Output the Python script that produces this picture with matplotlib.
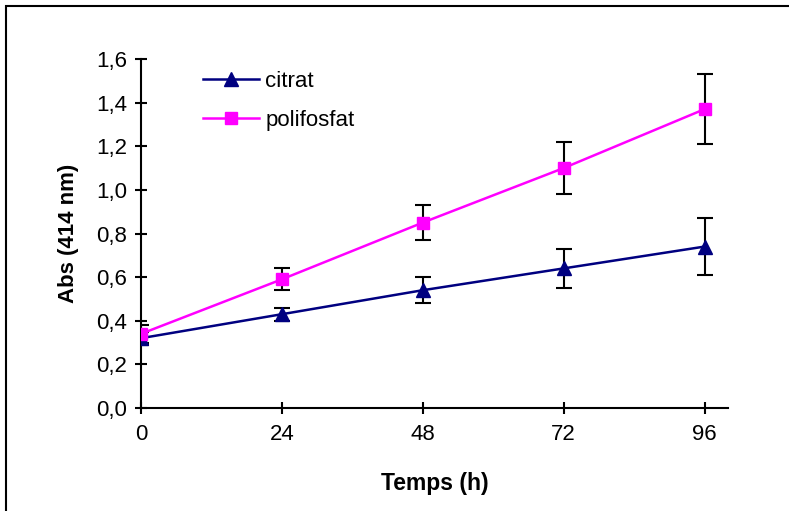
import matplotlib

matplotlib.use("Agg")

import matplotlib.pyplot as plt
from matplotlib.patches import Rectangle

plt.rcParams["font.family"] = ["Liberation Sans", "DejaVu Sans"]

HOURS = [0, 24, 48, 72, 96]
CITRAT = [0.32, 0.43, 0.54, 0.64, 0.74]
CITRAT_ERR = [0.03, 0.03, 0.06, 0.09, 0.13]
POLI = [0.34, 0.59, 0.85, 1.10, 1.37]
POLI_ERR = [0.04, 0.05, 0.08, 0.12, 0.16]
Y_TICKS = [0.0, 0.2, 0.4, 0.6, 0.8, 1.0, 1.2, 1.4, 1.6]

W, H = 789, 511
fig = plt.figure(figsize=(W / 100, H / 100), dpi=100)
ax = fig.add_axes([141 / W, (H - 408) / H, (728 - 141) / W, (408 - 59) / H])

# outer chart border (right and bottom edges fall outside the picture)
fig.patches.append(Rectangle((6 / W, -0.1), 1.2, 1 - 6 / H + 0.1,
                             transform=fig.transFigure, fill=False,
                             edgecolor="black", linewidth=1.5))

err_kw = dict(ecolor="black", elinewidth=1.5, capsize=5.5, capthick=1.5, zorder=2)
ax.errorbar(HOURS, CITRAT, yerr=CITRAT_ERR, fmt="none", **err_kw)
ax.errorbar(HOURS, POLI, yerr=POLI_ERR, fmt="none", **err_kw)
ax.plot(HOURS, CITRAT, color="#000080", linewidth=1.8, marker="^",
        markersize=10, markerfacecolor="#000080", markeredgecolor="#000080",
        label="citrat", zorder=3)
ax.plot(HOURS, POLI, color="#FF00FF", linewidth=1.8, marker="s",
        markersize=8, markerfacecolor="#FF00FF", markeredgecolor="#FF00FF",
        label="polifosfat", zorder=3)

ax.set_xlim(0, 100)
ax.set_ylim(0, 1.6)
ax.set_xticks(HOURS)
ax.set_yticks(Y_TICKS)
ax.set_yticklabels([f"{v:.1f}".replace(".", ",") for v in Y_TICKS])
ax.tick_params(direction="inout", length=8.5, width=1.5, labelsize=16)
ax.tick_params(axis="y", pad=6)
ax.tick_params(axis="x", pad=7)

for side in ("top", "right"):
    ax.spines[side].set_visible(False)
for side in ("left", "bottom"):
    ax.spines[side].set_linewidth(1.5)

ax.set_xlabel("Temps (h)", fontsize=16.5, fontweight="bold", labelpad=20)
ax.set_ylabel("Abs (414 nm)", fontsize=16, fontweight="bold", labelpad=12)

ax.legend(loc="upper left", bbox_to_anchor=(62 / 587, 1.0 - 12 / 349),
          frameon=False, fontsize=16, handlelength=2.5, labelspacing=0.8,
          handletextpad=0.3, borderpad=0, borderaxespad=0)

fig.savefig("out.png", dpi=100)
